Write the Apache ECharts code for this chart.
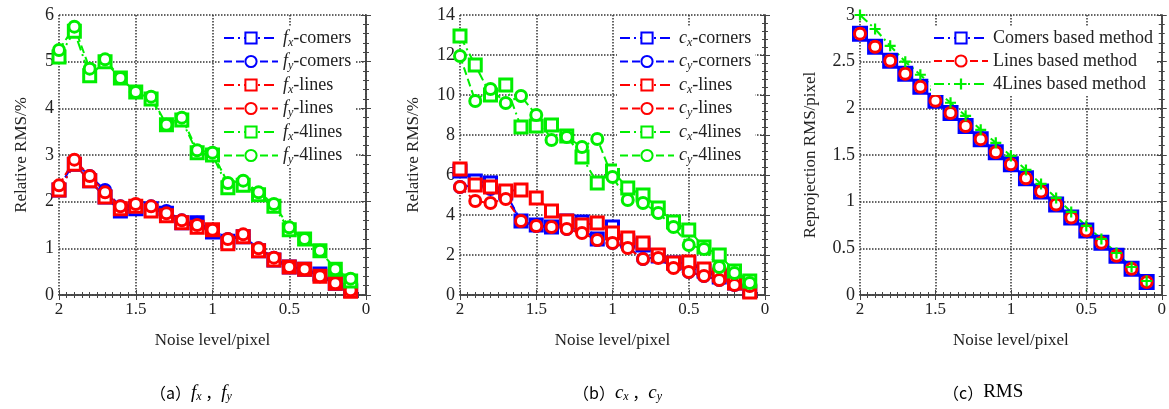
<!DOCTYPE html>
<html>
<head>
<meta charset="utf-8">
<script src="https://cdn.jsdelivr.net/npm/echarts@6/dist/echarts.min.js"></script>
<style>
  html, body { margin: 0; padding: 0; background: #fff; }
  #chart { width: 1169px; height: 409px; }
</style>
</head>
<body>
<div id="chart"></div>
<script>
// noise level (x), shared by every curve
const noise = [2.0, 1.9, 1.8, 1.7, 1.6, 1.5, 1.4, 1.3, 1.2, 1.1, 1.0, 0.9, 0.8, 0.7, 0.6, 0.5, 0.4, 0.3, 0.2, 0.1];

// (a) fx, fy
const fxCorners = [2.25, 2.8, 2.45, 2.1, 1.8, 1.85, 1.85, 1.75, 1.55, 1.55, 1.35, 1.15, 1.25, 0.95, 0.75, 0.6, 0.55, 0.45, 0.25, 0.1];
const fyCorners = [2.3, 2.85, 2.55, 2.25, 1.9, 1.9, 1.9, 1.8, 1.6, 1.55, 1.4, 1.2, 1.25, 1.0, 0.8, 0.6, 0.55, 0.4, 0.25, 0.1];
const fxLines = [2.25, 2.8, 2.45, 2.1, 1.85, 1.9, 1.8, 1.7, 1.55, 1.45, 1.4, 1.1, 1.25, 0.95, 0.75, 0.6, 0.55, 0.4, 0.25, 0.08];
const fyLines = [2.35, 2.9, 2.55, 2.2, 1.9, 1.95, 1.9, 1.75, 1.6, 1.5, 1.4, 1.2, 1.3, 1.0, 0.8, 0.6, 0.55, 0.4, 0.25, 0.1];
const fx4Lines = [5.1, 5.65, 4.7, 5.0, 4.65, 4.35, 4.2, 3.65, 3.75, 3.05, 3.0, 2.3, 2.35, 2.15, 1.9, 1.4, 1.2, 0.95, 0.55, 0.3];
const fy4Lines = [5.25, 5.75, 4.85, 5.05, 4.65, 4.35, 4.25, 3.65, 3.8, 3.1, 3.05, 2.4, 2.45, 2.2, 1.95, 1.45, 1.2, 0.95, 0.55, 0.35];

// (b) cx, cy
const cxCorners = [6.2, 5.7, 5.6, 5.1, 3.7, 3.5, 3.4, 3.7, 3.65, 2.8, 3.4, 2.7, 2.5, 1.95, 1.6, 1.6, 1.2, 0.9, 0.6, 0.2];
const cyCorners = [5.4, 5.5, 5.3, 5.0, 3.7, 3.45, 3.4, 3.3, 3.3, 2.75, 2.6, 2.4, 1.8, 1.9, 1.4, 1.15, 0.95, 0.75, 0.5, 0.4];
const cxLines = [6.3, 5.5, 5.4, 5.2, 5.25, 4.85, 4.2, 3.7, 3.5, 3.6, 3.1, 2.85, 2.6, 2.0, 1.6, 1.65, 1.3, 1.0, 0.6, 0.15];
const cyLines = [5.4, 4.7, 4.6, 4.8, 3.7, 3.45, 3.4, 3.3, 3.1, 2.75, 2.6, 2.35, 1.8, 1.85, 1.35, 1.15, 0.95, 0.75, 0.5, 0.45];
const cx4Lines = [12.95, 11.5, 10.0, 10.5, 8.4, 8.45, 8.5, 7.95, 6.9, 5.6, 6.2, 5.35, 5.0, 4.35, 3.65, 3.25, 2.4, 2.0, 1.2, 0.7];
const cy4Lines = [11.95, 9.7, 10.3, 9.6, 9.95, 9.0, 7.75, 7.9, 7.4, 7.8, 5.9, 4.75, 4.6, 4.1, 3.4, 2.5, 2.3, 1.4, 1.1, 0.6];

// (c) reprojection RMS
const rmsCorners = [2.8, 2.66, 2.51, 2.37, 2.23, 2.08, 1.95, 1.81, 1.67, 1.53, 1.4, 1.25, 1.11, 0.97, 0.83, 0.69, 0.56, 0.42, 0.28, 0.14];
const rmsLines = [2.8, 2.66, 2.51, 2.37, 2.23, 2.08, 1.95, 1.81, 1.67, 1.53, 1.4, 1.25, 1.11, 0.97, 0.83, 0.69, 0.56, 0.42, 0.28, 0.14];
const rms4Lines = [3.0, 2.85, 2.67, 2.5, 2.36, 2.2, 2.06, 1.92, 1.77, 1.63, 1.49, 1.34, 1.19, 1.04, 0.89, 0.74, 0.6, 0.45, 0.3, 0.15];

const xTicks = ['0', '0.5', '1', '1.5', '2'];

const FONT = 'Liberation Serif';
const INK = '#222';
const BLUE = '#0000ff', RED = '#ff0000', GREEN = '#00ee00';
const DASHDOT = [10, 4, 2, 4];
const DASH = [8, 4];
const PLUS = 'path://M4,0 L6,0 L6,4 L10,4 L10,6 L6,6 L6,10 L4,10 L4,6 L0,6 L0,4 L4,4 Z';

const grids = [
  { left: 59, top: 15, width: 307, height: 280 },
  { left: 460, top: 15, width: 305, height: 280 },
  { left: 860, top: 15, width: 307, height: 280 }
];

function zip(ys) {
  return noise.map((x, i) => [x, ys[i]]);
}

const gridLine = { show: true, lineStyle: { color: '#333', type: 'dotted', width: 1.5 } };

const xAxis = [];
const yAxis = [];
function addAxes(g, ymax, yint, yname, yGap) {
  const common = {
    gridIndex: g,
    axisLine: { show: true, lineStyle: { color: '#444', width: 1.5 } },
    axisTick: { show: true, inside: true, length: 5, lineStyle: { color: '#444' } },
    minorTick: { show: true, length: 3, lineStyle: { color: '#444' } }
  };
  xAxis.push(Object.assign({}, common, {
    type: 'value', position: 'bottom', min: 0, max: 2, interval: 0.5, inverse: true,
    minorTick: Object.assign({}, common.minorTick, { splitNumber: 10 }),
    axisLabel: {
      color: INK, fontFamily: FONT, fontSize: 17, margin: 6,
      formatter: v => xTicks[Math.round(v * 2)]
    },
    splitLine: gridLine,
    name: 'Noise level/pixel', nameLocation: 'middle', nameGap: 37,
    nameTextStyle: { color: INK, fontFamily: FONT, fontSize: 17 }
  }));
  xAxis.push(Object.assign({}, common, {
    type: 'value', position: 'top', min: 0, max: 2, interval: 0.5, inverse: true,
    minorTick: Object.assign({}, common.minorTick, { splitNumber: 10 }),
    axisLabel: { show: false }, splitLine: { show: false }
  }));
  yAxis.push(Object.assign({}, common, {
    type: 'value', position: 'left', min: 0, max: ymax, interval: yint,
    minorTick: Object.assign({}, common.minorTick, { splitNumber: 5 }),
    axisLabel: { color: INK, fontFamily: FONT, fontSize: 18, margin: 5 },
    splitLine: gridLine,
    name: yname, nameLocation: 'middle', nameGap: yGap,
    nameTextStyle: { color: INK, fontFamily: FONT, fontSize: 17 }
  }));
  yAxis.push(Object.assign({}, common, {
    type: 'value', position: 'right', min: 0, max: ymax, interval: yint,
    minorTick: Object.assign({}, common.minorTick, { splitNumber: 5 }),
    axisLabel: { show: false }, splitLine: { show: false }
  }));
}
addAxes(0, 6, 1, 'Relative RMS/%', 29);
addAxes(1, 14, 2, 'Relative RMS/%', 38);
addAxes(2, 3, 0.5, 'Reprojection RMS/pixel', 41);

function line(name, g, ys, color, dash, symbol, size) {
  const isPlus = symbol === PLUS;
  return {
    name: name, type: 'line', xAxisIndex: g * 2, yAxisIndex: g * 2,
    data: zip(ys),
    symbol: symbol, symbolSize: size, showAllSymbol: true,
    lineStyle: { color: color, width: 2, type: dash },
    itemStyle: isPlus
      ? { color: color, borderWidth: 0 }
      : { color: '#fff', borderColor: color, borderWidth: 3 },
    emphasis: { disabled: true },
    z: 3,
    animation: false
  };
}

const series = [
  line('fx-comers', 0, fxCorners, BLUE, DASHDOT, 'rect', 12),
  line('fy-comers', 0, fyCorners, BLUE, DASH, 'circle', 11),
  line('fx-lines', 0, fxLines, RED, DASHDOT, 'rect', 12),
  line('fy-lines', 0, fyLines, RED, DASH, 'circle', 11),
  line('fx-4lines', 0, fx4Lines, GREEN, DASHDOT, 'rect', 12),
  line('fy-4lines', 0, fy4Lines, GREEN, DASH, 'circle', 11),

  line('cx-corners', 1, cxCorners, BLUE, DASHDOT, 'rect', 12),
  line('cy-corners', 1, cyCorners, BLUE, DASH, 'circle', 11),
  line('cx-lines', 1, cxLines, RED, DASHDOT, 'rect', 12),
  line('cy-lines', 1, cyLines, RED, DASH, 'circle', 11),
  line('cx-4lines', 1, cx4Lines, GREEN, DASHDOT, 'rect', 12),
  line('cy-4lines', 1, cy4Lines, GREEN, DASH, 'circle', 11),

  line('Comers based method', 2, rmsCorners, BLUE, DASHDOT, 'rect', 13),
  line('Lines based method', 2, rmsLines, RED, DASH, 'circle', 11),
  line('4Lines based method', 2, rms4Lines, GREEN, DASHDOT, PLUS, 11)
];

const rich = {
  it: { fontFamily: FONT, fontStyle: 'italic', fontSize: 18, color: INK },
  sub: { fontFamily: FONT, fontStyle: 'italic', fontSize: 12, color: INK, padding: [9, 0, 0, 0] },
  t: { fontFamily: FONT, fontSize: 18, color: INK }
};

function legendText(name) {
  const m = name.match(/^([fc])([xy])(-.*)$/);
  if (!m) return '{t|' + name + '}';
  return '{it|' + m[1] + '}{sub|' + m[2] + '}{t|' + m[3] + '}';
}

function legend(names, left, gap) {
  return {
    data: names, orient: 'vertical', left: left, top: 27,
    itemWidth: 54, itemHeight: 14, itemGap: gap,
    backgroundColor: '#fff', padding: [2, 4, 2, 2],
    selectedMode: false, z: 10,
    formatter: legendText,
    textStyle: { color: INK, fontFamily: FONT, fontSize: 18, rich: rich }
  };
}

const option = {
  animation: false,
  backgroundColor: '#fff',
  grid: grids,
  xAxis: xAxis,
  yAxis: yAxis,
  legend: [
    legend(['fx-comers', 'fy-comers', 'fx-lines', 'fy-lines', 'fx-4lines', 'fy-4lines'], 221, 4),
    legend(['cx-corners', 'cy-corners', 'cx-lines', 'cy-lines', 'cx-4lines', 'cy-4lines'], 617, 4),
    legend(['Comers based method', 'Lines based method', '4Lines based method'], 931, 5)
  ],
  series: series,
  graphic: [
    { type: 'text', left: 150, top: 383,
      style: { text: '{p|（a）}{it|f}{sub|x}{p| ，}{it|f}{sub|y}', rich: {
        p: { fontFamily: 'Noto Sans CJK SC', fontSize: 16, color: INK },
        it: { fontFamily: FONT, fontStyle: 'italic', fontSize: 19, color: INK },
        sub: { fontFamily: FONT, fontStyle: 'italic', fontSize: 12, color: INK, padding: [8, 0, 0, 0] } } } },
    { type: 'text', left: 573, top: 383,
      style: { text: '{p|（b）}{it|c}{sub|x}{p| ，}{it|c}{sub|y}', rich: {
        p: { fontFamily: 'Noto Sans CJK SC', fontSize: 16, color: INK },
        it: { fontFamily: FONT, fontStyle: 'italic', fontSize: 19, color: INK },
        sub: { fontFamily: FONT, fontStyle: 'italic', fontSize: 12, color: INK, padding: [8, 0, 0, 0] } } } },
    { type: 'text', left: 943, top: 383,
      style: { text: '{p|（c）}{t|RMS}', rich: {
        p: { fontFamily: 'Noto Sans CJK SC', fontSize: 16, color: INK },
        t: { fontFamily: FONT, fontSize: 19, color: INK } } } }
  ]
};

const chart = echarts.init(document.getElementById('chart'), null, { renderer: 'canvas' });
chart.setOption(option);
</script>
</body>
</html>
